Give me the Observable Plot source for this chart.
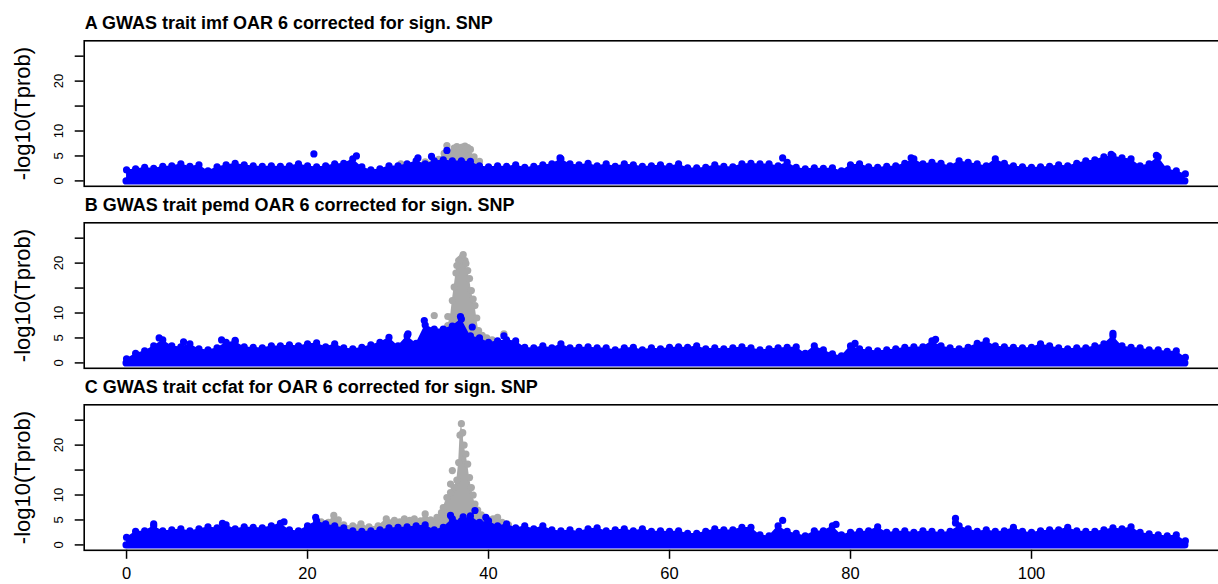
<!DOCTYPE html>
<html>
<head>
<meta charset="utf-8">
<script src="https://cdn.jsdelivr.net/npm/d3@7"></script>
<script src="https://cdn.jsdelivr.net/npm/@observablehq/plot@0.6"></script>
<style>
  html, body { margin: 0; padding: 0; background: #fff; overflow: hidden; }
  #chart { position: relative; width: 1218px; height: 584px; overflow: hidden;
           font-family: "Liberation Sans", Arial, Helvetica, sans-serif; }
  #chart svg { position: absolute; left: 0; max-width: none; }
</style>
</head>
<body>
<div id="chart"></div>
<script>
// OAR 6 position bins (Mb) along the chromosome
const binMb = d3.range(0, 118);
const chromLimits = [0, 117];
const yLimits = [0, 27];
const yTicks = [0, 5, 10, 15, 20, 25];
const yTickLabels = [0, 5, 10, 20];
const xTicks = [0, 20, 40, 60, 80, 100];
const yTitle = "-log10(Tprob)";

// Upper envelope of -log10(Tprob) per 1 Mb bin, after correction (blue)
const imfBlue = [
  2.2, 2.4, 2.7, 2.5, 2.9, 3.0, 3.4, 2.9, 3.2, 2.0,
  2.8, 3.2, 3.5, 3.2, 3.0, 2.9, 3.0, 2.9, 3.0, 3.4,
  3.0, 2.8, 3.0, 3.4, 3.5, 4.4, 2.8, 2.2, 2.4, 3.0,
  3.0, 3.4, 4.0, 3.4, 4.0, 4.2, 4.0, 4.0, 3.9, 3.0,
  2.8, 3.0, 2.9, 3.2, 2.7, 2.9, 3.2, 3.4, 4.4, 3.4,
  3.2, 3.5, 3.0, 3.4, 2.9, 3.4, 3.2, 2.9, 3.0, 3.2,
  2.9, 3.4, 2.6, 2.6, 2.7, 3.2, 2.9, 2.8, 3.4, 3.5,
  3.4, 3.4, 3.0, 3.7, 2.7, 2.4, 2.6, 2.5, 2.6, 2.0,
  3.2, 3.4, 2.8, 2.7, 2.9, 3.0, 3.5, 4.4, 3.4, 3.7,
  3.5, 3.0, 4.0, 3.7, 3.4, 3.0, 4.4, 3.5, 3.0, 2.8,
  2.7, 2.8, 2.9, 3.2, 3.0, 3.5, 4.0, 4.2, 4.8, 5.0,
  4.6, 4.4, 3.0, 3.4, 4.8, 2.4, 2.0, 1.4
];
const pemdBlue = [
  0.8, 1.9, 2.4, 3.4, 4.6, 3.4, 3.2, 3.8, 2.8, 2.6,
  3.0, 4.1, 4.3, 3.2, 3.1, 3.0, 3.4, 3.4, 3.6, 3.4,
  3.8, 4.0, 3.2, 3.8, 3.0, 2.8, 3.1, 3.6, 4.1, 5.1,
  3.4, 5.4, 3.9, 7.6, 6.8, 6.8, 7.4, 8.8, 5.4, 5.0,
  4.1, 4.4, 4.6, 4.4, 3.1, 3.0, 3.4, 3.0, 3.8, 3.0,
  3.1, 3.2, 3.0, 3.0, 2.6, 3.0, 3.1, 2.6, 3.0, 2.8,
  3.1, 3.2, 3.1, 3.4, 2.8, 3.0, 2.8, 3.0, 3.2, 3.0,
  2.6, 2.8, 3.0, 3.1, 3.2, 1.9, 3.4, 2.6, 1.8, 1.4,
  3.4, 2.8, 2.6, 2.4, 2.6, 2.8, 3.1, 3.2, 3.2, 4.4,
  3.4, 3.0, 2.8, 3.1, 3.9, 4.4, 3.4, 3.2, 3.1, 3.0,
  3.1, 3.8, 3.4, 3.0, 2.8, 3.0, 3.0, 3.4, 3.8, 5.4,
  3.4, 3.1, 3.0, 2.6, 2.6, 2.3, 2.4, 1.1
];
const ccfatBlue = [
  1.5, 2.7, 2.8, 3.8, 2.8, 3.0, 3.2, 2.8, 3.2, 3.6,
  3.4, 4.0, 3.2, 3.6, 3.5, 3.4, 3.8, 4.3, 3.0, 2.8,
  3.8, 4.8, 4.2, 3.8, 3.4, 2.8, 2.7, 2.8, 3.0, 3.4,
  3.5, 3.6, 3.8, 4.0, 3.0, 3.5, 5.2, 4.8, 5.8, 4.5,
  4.8, 3.8, 4.2, 3.4, 3.8, 3.2, 3.8, 3.0, 2.8, 3.0,
  2.7, 3.2, 3.4, 2.8, 3.0, 3.2, 2.8, 3.2, 2.7, 2.8,
  2.7, 2.8, 2.3, 2.3, 2.7, 3.2, 3.0, 3.0, 3.5, 3.5,
  2.0, 1.8, 3.8, 2.7, 2.3, 1.8, 2.8, 2.8, 3.8, 2.0,
  2.5, 2.7, 2.8, 3.6, 2.5, 2.7, 2.8, 2.5, 2.8, 2.7,
  2.5, 2.7, 3.8, 3.2, 2.7, 3.0, 2.7, 2.8, 3.5, 2.7,
  2.5, 2.8, 3.0, 3.0, 3.5, 2.8, 2.7, 2.7, 3.0, 3.4,
  3.2, 3.6, 2.5, 2.2, 2.0, 1.8, 2.0, 0.8
];

// Single SNPs standing above the corrected envelope: [Mb, -log10(Tprob)]
const imfBlueSnps = [[20.7, 5.4], [25.4, 5.0], [32.2, 4.6], [33.7, 4.9], [35.4, 6.1],
  [47.9, 4.6], [72.5, 4.6], [86.7, 4.6], [108.8, 5.3], [113.8, 5.1]];
const pemdBlueSnps = [[3.6, 5.0], [6.3, 4.2], [10.5, 4.6], [12.0, 4.5], [31.1, 5.8],
  [32.9, 8.5], [36.9, 9.3], [38.2, 7.2], [41.7, 5.4], [80.5, 3.9], [89.4, 4.7], [109.0, 5.9]];
const ccfatBlueSnps = [[3.0, 4.2], [10.6, 4.3], [17.4, 4.6], [20.9, 5.5], [35.8, 5.9],
  [37.2, 5.6], [38.5, 6.9], [39.7, 5.5], [72.5, 4.9], [78.4, 4.1], [91.6, 5.3], [91.6, 4.4]];

// Uncorrected results (grey) where they rise above the corrected ones
const imfGrayMb  = [30.3, 33.0, 34.5, 35.1, 35.4, 35.8, 36.2, 36.5, 36.8, 37.1, 37.4, 37.7, 38.0, 38.4, 39.0];
const imfGrayVal = [3.4, 3.8, 4.3, 5.5, 7.1, 5.6, 6.6, 6.9, 6.6, 6.8, 7.0, 6.7, 6.3, 4.8, 3.9];
const imfGraySnps = [];

const pemdGrayMb  = [35.0, 35.5, 35.8, 36.0, 36.2, 36.4, 36.5, 36.7, 36.9, 37.1, 37.2, 37.4,
  37.5, 37.7, 37.9, 38.1, 38.3, 38.5, 38.7, 38.9, 39.3, 39.8, 40.4];
const pemdGrayVal = [6.0, 7.5, 9.2, 12.5, 15.2, 18.0, 19.5, 20.5, 20.8, 21.2, 21.7, 20.5,
  19.9, 18.5, 16.9, 14.5, 12.8, 11.5, 9.0, 6.5, 5.5, 5.0, 4.6];
const pemdGraySnps = [[34.0, 9.5], [35.5, 9.3], [41.7, 5.8]];

const ccfatGrayMb  = [21.5, 22.3, 22.9, 23.4, 24.0, 25.0, 25.9, 26.8, 27.8, 28.7, 29.6, 30.2,
  30.7, 31.3, 31.8, 32.5, 33.0, 33.6, 34.3, 34.8, 35.0, 35.4, 35.8, 36.2, 36.5, 36.7, 36.85,
  37.0, 37.15, 37.3, 37.5, 37.7, 37.9, 38.1, 38.3, 38.5, 38.8, 39.2, 39.6, 40.0, 40.5, 41.0,
  41.5, 42.2];
const ccfatGrayVal = [4.6, 4.5, 5.9, 5.0, 4.0, 3.8, 4.2, 3.6, 3.8, 5.2, 4.9, 4.6,
  5.2, 4.9, 5.2, 4.8, 6.2, 5.0, 5.5, 6.5, 7.5, 9.5, 10.5, 11.5, 13.0, 16.5, 22.0,
  24.3, 22.5, 20.0, 18.2, 16.2, 13.5, 11.5, 10.0, 8.2, 7.0, 6.0, 5.2, 5.0, 5.2, 5.5,
  4.5, 4.0];
const ccfatGraySnps = [[35.8, 12.2], [36.0, 14.9]];

const panelTitles = [
  "A GWAS trait imf OAR 6 corrected for sign. SNP",
  "B GWAS trait pemd OAR 6 corrected for sign. SNP",
  "C GWAS trait ccfat for OAR 6 corrected for sign. SNP"
];

const BLUE = "#0000FF";
const GRAY = "#A9A9A9";
const R = 3.6;               // point radius (pch 19)
const FONT = '"Liberation Sans", Arial, Helvetica, sans-serif';

// R-style axis limits: data range widened by 4% on each side
const widen = ([a, b]) => [a - 0.04 * (b - a), b + 0.04 * (b - a)];
const xDomain = widen(chromLimits);
const yDomain = widen(yLimits);

const panels = [
  {title: panelTitles[0], blue: imfBlue, blueSnps: imfBlueSnps, grayMb: imfGrayMb, grayVal: imfGrayVal, graySnps: imfGraySnps},
  {title: panelTitles[1], blue: pemdBlue, blueSnps: pemdBlueSnps, grayMb: pemdGrayMb, grayVal: pemdGrayVal, graySnps: pemdGraySnps},
  {title: panelTitles[2], blue: ccfatBlue, blueSnps: ccfatBlueSnps, grayMb: ccfatGrayMb, grayVal: ccfatGrayVal, graySnps: ccfatGraySnps}
];

const chart = document.getElementById("chart");
const panelTop = [0, 182, 364];

panels.forEach((p, k) => {
  const showX = k === panels.length - 1;
  const mt = 40.3, frameH = 145.5;
  const mb = showX ? 584 - panelTop[k] - mt - frameH : 6;
  const height = mt + frameH + mb;

  const blueRows = binMb.map((pos, i) => ({pos, val: p.blue[i]}));
  const grayRows = p.grayMb.map((pos, i) => ({pos, val: p.grayVal[i]}));
  const snp = d => ({pos: d[0], val: d[1]});

  const marks = [
    // uncorrected (grey) underneath
    Plot.areaY(grayRows, {x: "pos", y: "val", fill: GRAY}),
    Plot.dot(grayRows, {x: "pos", y: "val", r: R, fill: GRAY}),
    Plot.dot(p.graySnps.map(snp), {x: "pos", y: "val", r: R, fill: GRAY}),
    // corrected (blue) on top
    Plot.areaY(blueRows, {x: "pos", y: "val", fill: BLUE}),
    Plot.ruleY([0], {x1: binMb[0], x2: binMb[binMb.length - 1], stroke: BLUE, strokeWidth: 2 * R, strokeLinecap: "round"}),
    Plot.dot(blueRows, {x: "pos", y: "val", r: R, fill: BLUE}),
    Plot.dot(p.blueSnps.map(snp), {x: "pos", y: "val", r: R, fill: BLUE}),
    Plot.frame({stroke: "black", strokeWidth: 1.6}),
    // y axis: ticks, rotated labels, title
    Plot.axisY(yTicks, {tickSize: 9, tickFormat: () => "", strokeWidth: 1.5, label: null}),
    Plot.text(yTickLabels, {y: d => d, text: d => String(d), frameAnchor: "left", dx: -25.5,
      rotate: -90, textAnchor: "middle", lineAnchor: "middle", fontSize: 13, fill: "black"}),
    Plot.text([yTitle], {text: d => d, frameAnchor: "left", dx: -61.5, rotate: -90,
      textAnchor: "middle", lineAnchor: "middle", fontSize: 22, fill: "black"}),
    // panel title
    Plot.text([p.title], {text: d => d, frameAnchor: "top-left", dx: 0.5, dy: -12,
      textAnchor: "start", lineAnchor: "bottom", fontSize: 18, fontWeight: "bold", fill: "black"})
  ];
  if (showX) {
    marks.push(Plot.axisX(xTicks, {tickSize: 9, tickPadding: 8, fontSize: 16.5, strokeWidth: 1.5, label: null}));
  }

  const svg = Plot.plot({
    width: 1228, height,
    marginLeft: 83.7, marginRight: 0.8, marginTop: mt, marginBottom: mb,
    x: {domain: xDomain, axis: null},
    y: {domain: yDomain, axis: null},
    style: {fontFamily: FONT, background: "transparent", overflow: "visible", color: "black"},
    marks
  });
  svg.style.top = panelTop[k] + "px";
  svg.style.maxWidth = "none";
  chart.appendChild(svg);
});
</script>
</body>
</html>
